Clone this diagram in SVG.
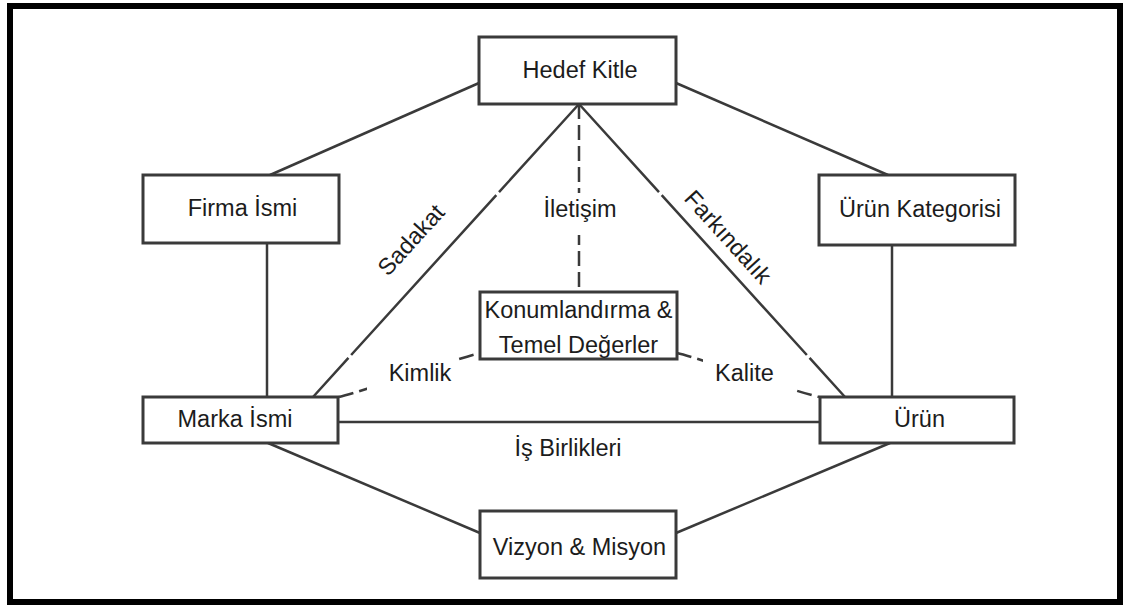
<svg xmlns="http://www.w3.org/2000/svg" width="1123" height="605" viewBox="0 0 1123 605">
  <style>
    .frame { fill: #ffffff; stroke: #000000; stroke-width: 6; }
    .box { fill: #ffffff; stroke: #3a3a3a; stroke-width: 3; }
    .link { fill: none; stroke: #3a3a3a; stroke-width: 2.5; }
    .dash { fill: none; stroke: #3a3a3a; stroke-width: 2.5; stroke-dasharray: 15 6; }
    .label-bg { fill: #ffffff; stroke: none; }
    text { font-family: "Liberation Sans", Arial, sans-serif; font-size: 23.5px; fill: #1c1c1c; text-anchor: middle; }
  </style>

  <!-- outer frame -->
  <rect class="frame" x="10" y="6" width="1110" height="596"/>

  <!-- connectors -->
  <g id="connectors">
    <!-- outer hexagon -->
    <line class="link" x1="479" y1="83" x2="270" y2="175"/>
    <line class="link" x1="676" y1="83" x2="888" y2="175"/>
    <line class="link" x1="267" y1="243" x2="267" y2="397"/>
    <line class="link" x1="892" y1="245" x2="892" y2="397"/>
    <line class="link" x1="268" y1="443" x2="480" y2="533"/>
    <line class="link" x1="676" y1="533" x2="890" y2="443"/>
    <!-- brand name to product -->
    <line class="link" x1="338" y1="422" x2="820" y2="422"/>
    <!-- inner triangle edges, with small breaks where label boxes cross -->
    <line class="link" x1="579" y1="104" x2="313" y2="397" stroke-dasharray="119 4 216 4 100"/>
    <line class="link" x1="579" y1="104" x2="845" y2="397" stroke-dasharray="119 4 216 4 100"/>
    <!-- dashed links to the core box -->
    <line class="dash" x1="579" y1="104" x2="579" y2="292"/>
    <path class="dash" d="M339,397 C367,390 455,359 480,353"/>
    <path class="dash" d="M677,353 C702,359 790,390 819,397"/>
  </g>

  <!-- edge labels -->
  <g id="edge-labels">
    <rect class="label-bg" x="540" y="193" width="80" height="42"/>
    <text x="580" y="217">İletişim</text>
    <rect class="label-bg" x="367" y="356" width="90" height="37"/>
    <text x="420" y="381">Kimlik</text>
    <rect class="label-bg" x="703" y="356" width="89" height="37"/>
    <text x="744.5" y="381">Kalite</text>
    <text x="568" y="456">İş Birlikleri</text>
    <text transform="translate(411,240) rotate(-47.8)" y="8">Sadakat</text>
    <text transform="translate(728,237) rotate(47.8)" y="8">Farkındalık</text>
  </g>

  <!-- nodes -->
  <g id="hedef-kitle">
    <rect class="box" x="479" y="37" width="197" height="67"/>
    <text x="580" y="78">Hedef Kitle</text>
  </g>
  <g id="firma-ismi">
    <rect class="box" x="143" y="175" width="196" height="68"/>
    <text x="242.5" y="216">Firma İsmi</text>
  </g>
  <g id="urun-kategorisi">
    <rect class="box" x="819" y="175" width="196" height="70"/>
    <text x="920" y="217">Ürün Kategorisi</text>
  </g>
  <g id="konumlandirma">
    <rect class="box" x="480" y="292" width="197" height="67"/>
    <text x="578.5" y="318">Konumlandırma &amp;</text>
    <text x="578.5" y="352.5">Temel Değerler</text>
  </g>
  <g id="marka-ismi">
    <rect class="box" x="143" y="397" width="195" height="46"/>
    <text x="235" y="427">Marka İsmi</text>
  </g>
  <g id="urun">
    <rect class="box" x="820" y="397" width="194" height="46"/>
    <text x="919.5" y="427">Ürün</text>
  </g>
  <g id="vizyon-misyon">
    <rect class="box" x="480" y="511" width="196" height="67"/>
    <text x="579.5" y="555">Vizyon &amp; Misyon</text>
  </g>
</svg>
